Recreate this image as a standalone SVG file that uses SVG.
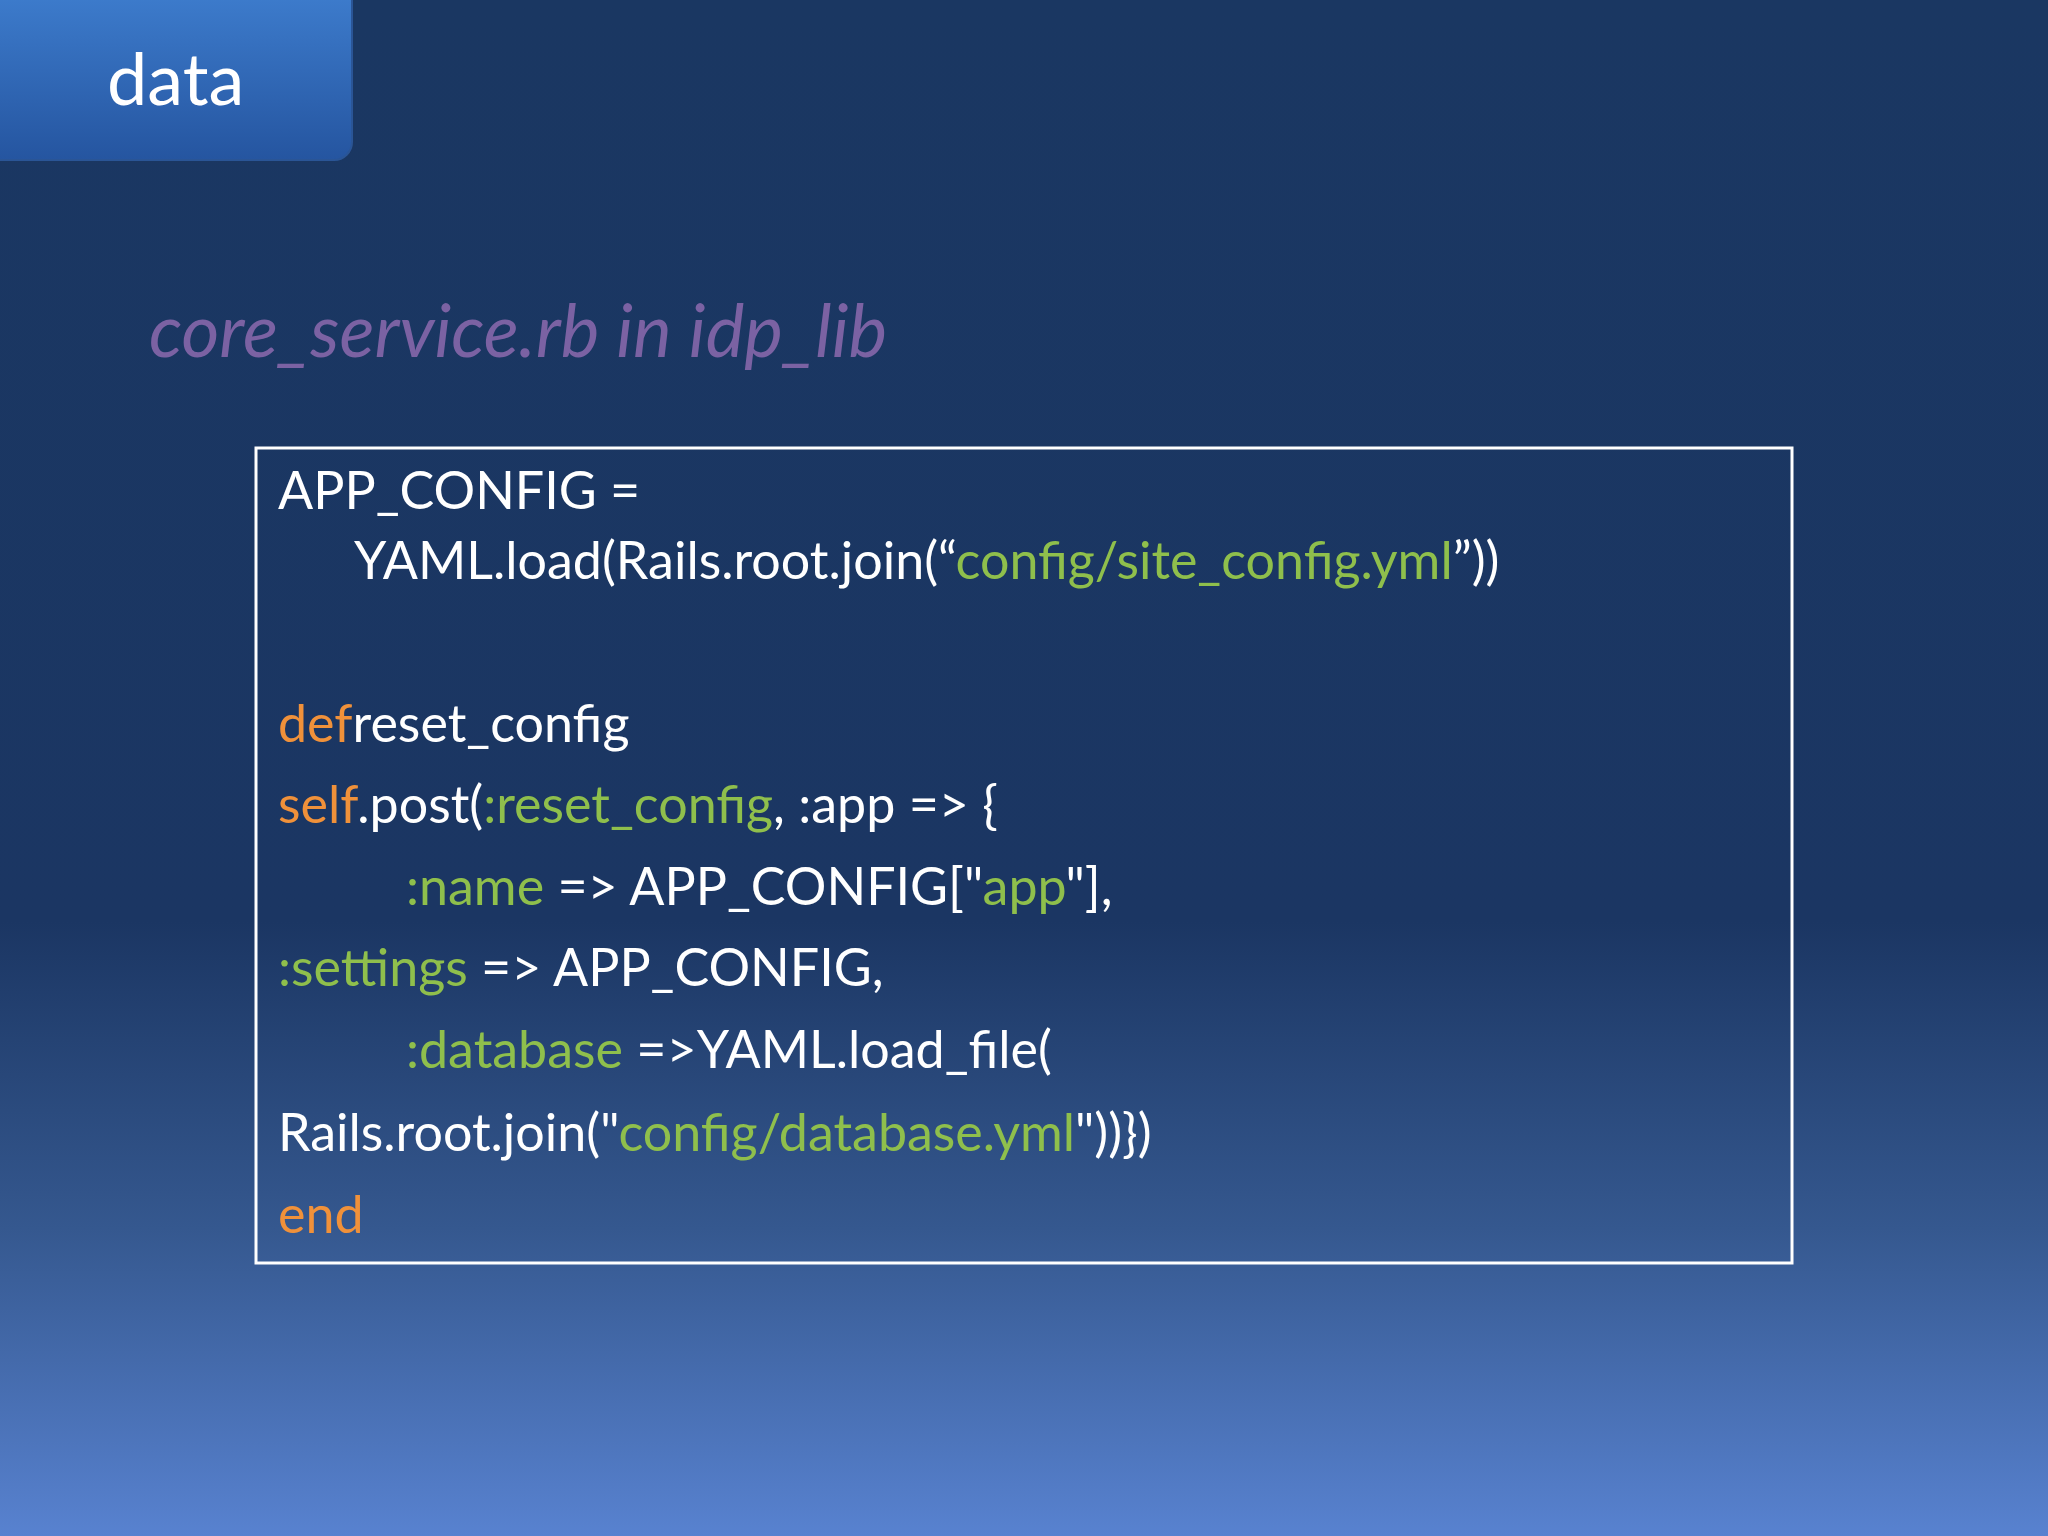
<svg xmlns="http://www.w3.org/2000/svg" width="2048" height="1536" viewBox="0 0 2048 1536">
<defs>
<linearGradient id="bg" x1="0" y1="0" x2="0" y2="1">
<stop offset="0" stop-color="#1a3762"/>
<stop offset="0.6" stop-color="#1b3663"/>
<stop offset="0.8" stop-color="#35588f"/>
<stop offset="1" stop-color="#5882d0"/>
</linearGradient>
<linearGradient id="tab" x1="0" y1="0" x2="0" y2="1">
<stop offset="0" stop-color="#3f7fd0"/>
<stop offset="1" stop-color="#2555a0"/>
</linearGradient>
<style>
.c{font-family:Lato,"Liberation Sans",sans-serif;font-size:52px;fill:#ffffff}
.o{fill:#f0913a}.g{fill:#8fbf4c}
</style>
</defs>
<rect width="2048" height="1536" fill="url(#bg)"/>
<g id="tab">
<rect x="-20" y="-20" width="372" height="180" rx="18" fill="url(#tab)" stroke="#2a5596" stroke-width="2"/>
<text x="107" y="105" font-family="Lato,'Liberation Sans',sans-serif" font-size="72" fill="#ffffff">data</text>
</g>
<g id="title">
<text x="149" y="357" font-family="Lato,'Liberation Sans',sans-serif" font-style="italic" font-size="73" fill="#7b62a3">core_service.rb in idp_lib</text>
</g>
<g id="code">
<rect x="256" y="448" width="1536" height="815" fill="none" stroke="#ffffff" stroke-width="3"/>
<text class="c" x="278" y="509">APP_CONFIG =</text>
<text class="c" x="354" y="579">YAML.load(Rails.root.join(“<tspan class="g">config/site_config.yml</tspan>”))</text>
<text class="c" x="278" y="742"><tspan class="o">def</tspan>reset_config</text>
<text class="c" x="278" y="823"><tspan class="o">self</tspan>.post(<tspan class="g">:reset_config</tspan>, :app =&gt; {</text>
<text class="c" x="406" y="905"><tspan class="g">:name</tspan> =&gt; APP_CONFIG["<tspan class="g">app</tspan>"],</text>
<text class="c" x="278" y="986"><tspan class="g">:settings</tspan> =&gt; APP_CONFIG,</text>
<text class="c" x="406" y="1068"><tspan class="g">:database</tspan> =&gt;YAML.load_file(</text>
<text class="c" x="278" y="1151">Rails.root.join("<tspan class="g">config/database.yml</tspan>"))})</text>
<text class="c" x="278" y="1233"><tspan class="o">end</tspan></text>
</g>
</svg>
